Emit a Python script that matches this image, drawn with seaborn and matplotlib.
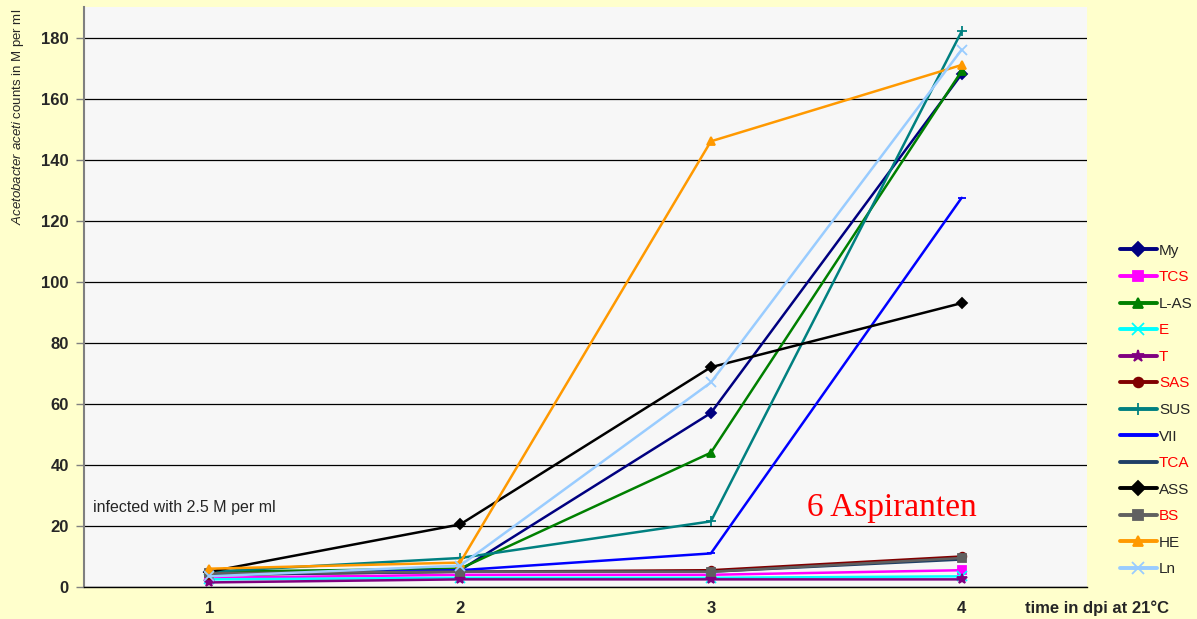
import matplotlib
matplotlib.use("Agg")
import matplotlib.pyplot as plt
import seaborn as sns
import pandas as pd
from matplotlib.lines import Line2D

# data
days = [1, 2, 3, 4]
names = ["My", "TCS", "L-AS", "E", "T", "SAS", "SUS", "VII", "TCA", "ASS", "BS", "HE", "Ln"]
my = [5.0, 5.5, 57.0, 168.0]
tcs = [3.0, 4.0, 4.0, 5.5]
las = [5.0, 6.0, 44.0, 169.0]
e_vals = [2.5, 3.0, 3.0, 3.5]
t_vals = [1.5, 2.5, 2.5, 2.5]
sas = [4.0, 5.0, 5.5, 10.0]
sus = [5.0, 9.5, 21.5, 182.0]
vii = [4.0, 5.5, 11.0, 127.5]
tca = [4.0, 5.0, 5.0, 9.0]
ass = [5.0, 20.5, 72.0, 93.0]
bs = [4.5, 5.0, 5.0, 9.5]
he = [6.0, 8.0, 146.0, 171.0]
ln = [3.5, 7.0, 67.0, 176.0]
values = [my, tcs, las, e_vals, t_vals, sas, sus, vii, tca, ass, bs, he, ln]

colors = ["#000080", "#FF00FF", "#008000", "#00FFFF", "#800080", "#800000", "#008080",
          "#0000FF", "#1F3F66", "#000000", "#606060", "#FF9900", "#99CCFF"]
markers = ["D", "s", "^", "x", "*", "o", "+", "_", None, "D", "s", "^", "x"]
label_red = {"TCS", "E", "T", "SAS", "TCA", "BS"}

df = pd.DataFrame(
    [(n, d, v) for n, vals in zip(names, values) for d, v in zip(days, vals)],
    columns=["series", "day", "count"],
)

sns.set_style("white")
plt.rcParams["font.family"] = ["Liberation Sans", "DejaVu Sans"]
plt.rcParams["mathtext.fontset"] = "custom"
plt.rcParams["mathtext.it"] = "Liberation Sans:italic"
plt.rcParams["mathtext.rm"] = "Liberation Sans"

fig = plt.figure(figsize=(11.97, 6.19), dpi=100)
fig.patch.set_facecolor("#FFFFCC")
ax = fig.add_axes([84 / 1197, 32 / 619, 1003 / 1197, 580 / 619])
ax.set_facecolor("#F7F7F7")

handles = []
for n, c, m in zip(names, colors, markers):
    sub = df[df["series"] == n]
    ms = 5.5
    if m in ("x", "+", "*"):
        ms = 7.5
    if m == "_":
        ms = 6
    sns.lineplot(data=sub, x="day", y="count", ax=ax, color=c, linewidth=1.8,
                 marker=m, markersize=ms, markeredgecolor=c, markeredgewidth=1.3,
                 legend=False, zorder=3)
    handles.append(Line2D([0], [0], color=c, lw=2.8, marker=m, markersize=ms + 1.5,
                          markeredgecolor=c, markeredgewidth=1.3))

ax.set_xlim(0.5, 4.5)
ax.set_ylim(0, 190)
ax.set_yticks(range(0, 181, 20))
ax.set_xticks(days)
ax.set_xticks([0.5, 1.5, 2.5, 3.5, 4.5], minor=True)
ax.tick_params(axis="x", which="major", length=0, pad=10, labelsize=12)
ax.tick_params(axis="x", which="minor", length=6, width=1, color="black", direction="out")
ax.tick_params(axis="y", length=6, width=1, color="#808080", direction="out", pad=5, labelsize=12, left=True)
for lab in ax.get_xticklabels() + ax.get_yticklabels():
    lab.set_fontweight("bold")

ax.yaxis.grid(True, color="black", linewidth=0.9)
ax.set_axisbelow(True)
for s in ["top", "right"]:
    ax.spines[s].set_visible(False)
ax.spines["left"].set_color("#808080")
ax.spines["left"].set_linewidth(1.5)
ax.spines["bottom"].set_color("black")
ax.spines["bottom"].set_linewidth(1.0)

ax.set_xlabel("")
ax.set_ylabel("")
fig.text(18 / 1197, 1 - 117 / 619, r"$\it{Acetobacter\ aceti}$ counts in M per ml",
         rotation=90, ha="center", va="center", fontsize=9.5)
fig.text(1097 / 1197, 1 - 608 / 619, "time in dpi at 21°C", ha="center", va="center",
         fontsize=12, fontweight="bold")

ax.text(0.535, 26, "infected with 2.5 M per ml", fontsize=11.5, ha="left", va="center")
ax.text(3.72, 26, "6 Aspiranten", fontsize=24, color="red", ha="center", va="center",
        family="Liberation Serif")

leg = fig.legend(handles, names, loc="center left", bbox_to_anchor=(1114 / 1197, 1 - 410 / 619),
                 frameon=False, fontsize=11, handlelength=2.4, handletextpad=0.15,
                 labelspacing=0.82, borderaxespad=0)
for txt in leg.get_texts():
    if txt.get_text() in label_red:
        txt.set_color("red")

fig.savefig("out.png", dpi=100, facecolor=fig.get_facecolor())
